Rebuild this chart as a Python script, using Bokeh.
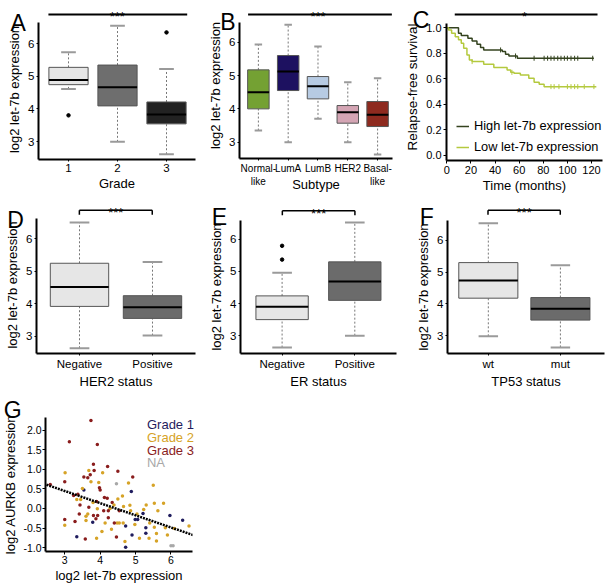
import numpy as np
from bokeh.plotting import figure
from bokeh.models import (ColumnDataSource, Label, Legend, LegendItem, Slope, FixedTicker,
                          GridBox, PrintfTickFormatter)
from bokeh.transform import factor_cmap
from bokeh.embed import file_html
from bokeh.resources import INLINE

FONT = "Liberation Sans"

# ---------------- data ----------------
# A: let-7b by grade
grade_cats = ["1", "2", "3"]
grade_q1 = [4.74, 4.09, 3.54]
grade_med = [4.88, 4.66, 3.83]
grade_q3 = [5.27, 5.34, 4.21]
grade_lo = [4.61, 2.99, 2.61]
grade_hi = [5.73, 6.54, 5.22]
grade_colors = ["#e6e6e6", "#6e6e6e", "#222222"]
grade_out_cat = ["1", "3"]
grade_out_val = [3.80, 6.34]

# B: let-7b by subtype
subtype_cats = ["Normal-\nlike", "LumA", "LumB", "HER2", "Basal-\nlike"]
subtype_q1 = [4.00, 4.55, 4.30, 3.57, 3.47]
subtype_med = [4.50, 5.12, 4.68, 3.90, 3.82]
subtype_q3 = [5.17, 5.60, 4.97, 4.10, 4.22]
subtype_lo = [3.35, 3.00, 3.70, 3.00, 2.63]
subtype_hi = [5.93, 6.52, 5.87, 4.80, 4.92]
subtype_colors = ["#74a133", "#1d1160", "#b7cbe3", "#d4a5b4", "#8e2a1f"]

# C: Kaplan-Meier relapse-free survival
km_high_t = [0, 9.7, 12, 17.5, 21, 25, 28, 30.6, 46, 48.7, 51.5, 58.5, 122]
km_high_s = [1.0, 0.957, 0.94, 0.918, 0.897, 0.871, 0.845, 0.826, 0.813, 0.792, 0.779, 0.761, 0.761]
km_high_cens = [44.6, 57, 72.4, 80.7, 83.6, 86.4, 89, 92, 94.7, 97.5, 100, 103, 106, 108.6, 121]
km_low_t = [0, 1.4, 4, 7, 9.7, 12, 14, 16.7, 18.7, 21, 30.6, 39, 50, 53, 55.7, 61, 68, 72.4, 76.6, 80.7, 124]
km_low_s = [1.0, 0.983, 0.957, 0.93, 0.905, 0.878, 0.84, 0.787, 0.748, 0.735, 0.714, 0.688, 0.669,
            0.651, 0.643, 0.63, 0.604, 0.573, 0.557, 0.539, 0.539]
km_low_cens = [21, 54, 86.4, 89, 93, 100, 103, 106, 108.6, 114, 122]
km_labels = ["High let-7b expression", "Low let-7b expression"]
km_colors = ["#34431f", "#b4c93e"]

# D: HER2 status
her2_cats = ["Negative", "Positive"]
her2_q1 = [3.92, 3.55]
her2_med = [4.52, 3.89]
her2_q3 = [5.25, 4.25]
her2_lo = [2.63, 3.02]
her2_hi = [6.51, 5.29]

# E: ER status
er_cats = ["Negative", "Positive"]
er_q1 = [3.50, 4.10]
er_med = [3.90, 4.69]
er_q3 = [4.24, 5.30]
er_lo = [2.63, 3.00]
er_hi = [4.96, 6.53]
er_out_cat = ["Negative", "Negative"]
er_out_val = [5.37, 5.80]

# F: TP53 status
tp53_cats = ["wt", "mut"]
tp53_q1 = [4.18, 3.49]
tp53_med = [4.74, 3.85]
tp53_q3 = [5.30, 4.20]
tp53_lo = [2.98, 2.63]
tp53_hi = [6.54, 5.22]

two_colors = ["#e6e6e6", "#6b6b6b"]

# G: AURKB vs let-7b scatter
g_x = [3.74, 3.13, 3.92, 3.01, 3.00, 3.81, 3.68, 3.83, 4.21, 3.54, 3.65, 3.72, 3.74, 3.96, 4.07,
       4.50, 3.54, 3.98, 4.00, 4.46, 4.80, 4.92, 4.88, 4.63, 4.12, 4.20, 4.34, 4.39, 4.28, 3.25,
       3.34, 3.45, 3.43, 3.68, 3.80, 3.90, 3.92, 3.65, 3.81, 3.93, 4.10, 4.23, 4.54, 4.66, 4.84,
       4.86, 5.04, 5.30, 5.53, 5.79, 5.50, 5.23, 5.63, 5.97, 6.33, 6.51, 6.10, 5.84, 5.90, 6.00,
       6.06, 5.21, 5.29, 5.29, 4.90, 4.72, 4.65, 4.54, 4.48, 4.46, 4.70, 4.72, 5.06, 5.11, 5.38,
       5.59, 5.59, 5.53, 5.40, 3.00, 3.00, 3.29, 3.34, 3.58, 3.60, 3.60, 3.79, 3.88, 3.90, 4.14,
       4.23, 4.32, 4.40, 4.05, 3.37, 4.98, 3.50, 4.50, 3.41, 4.99, 2.59]
g_y = [2.24, 1.70, 1.63, 0.91, 0.68, 1.13, 0.97, 0.97, 1.07, 0.80, 0.78, 0.86, 0.68, 0.66, 0.91,
       0.95, 0.47, 0.53, 0.47, 0.63, 0.65, 0.80, 0.43, 0.32, 0.28, 0.26, 0.15, 0.09, 0.00, 0.33,
       0.23, 0.23, 0.09, 0.03, 0.15, 0.18, -0.01, -0.14, -0.18, -0.18, -0.06, -0.06, -0.06, 0.05, 0.08,
       -0.06, -0.14, 0.09, 0.13, 0.13, 0.59, -0.03, -0.06, -0.18, -0.30, -0.45, -0.51, -0.49, -0.68, -0.95,
       -0.95, -0.13, -0.49, -0.63, -0.68, -0.45, -0.37, -0.37, -0.37, -0.73, -0.84, -0.99, -0.28, -0.76, -0.76,
       -0.64, -0.83, -0.48, -0.37, -0.28, -0.43, -0.33, -0.72, -0.78, -0.20, -0.31, -0.35, -0.26, -0.76, -0.37,
       -0.24, -0.53, -0.37, -0.59, 0.36, -0.41, 0.51, 0.24, -0.14, -0.28, 0.61]
g_grade = ["3", "3", "3", "2", "3", "3", "2", "3", "3", "3", "3", "3", "2", "2", "2",
           "3", "1", "3", "3", "NA", "2", "3", "1", "2", "3", "3", "3", "2", "2", "3",
           "2", "2", "3", "3", "2", "3", "2", "2", "3", "3", "3", "3", "3", "2", "2",
           "2", "2", "2", "2", "2", "2", "2", "2", "1", "1", "2", "2", "2", "2", "NA",
           "NA", "1", "1", "1", "1", "1", "2", "2", "2", "3", "2", "1", "1", "2", "2",
           "2", "2", "2", "2", "3", "2", "3", "1", "3", "2", "2", "1", "3", "2", "2",
           "3", "2", "3", "2", "3", "2", "2", "2", "3", "1", "3"]
g_factors = ["1", "2", "3", "NA"]
g_legend = ["Grade 1", "Grade 2", "Grade 3", "NA"]
g_palette = ["#1f1c5e", "#d6a327", "#8a1d1d", "#a8a8a8"]
g_fit_slope = -0.31
g_fit_intercept = 1.375

panel_letters = ["A", "B", "C", "D", "E", "F", "G"]

# ---------------- geometry (reference pixel space -> page layout) ----------------
W, H = 605, 585
SX, SY = W / 606, H / 586


def lx(r):
    return r * SX


def ly(r):
    return r * SY


COLS = [0, 197, 398, W]
ROWS = [0, 196, 391, H]


def cal(p_lo, p_hi, va, pa, vb, pb):
    k = (vb - va) / (pb - pa)
    return (va + (p_lo - pa) * k, va + (p_hi - pa) * k)


def panel(col, rw, frame_ref, xcal, ycal, width=None, ytop_ref=None):
    fx0, fy0 = COLS[col], ROWS[rw]
    w = width or (COLS[col + 1] - fx0)
    h = ROWS[rw + 1] - fy0
    l, t, r, b = frame_ref
    left = int(round(lx(l) - fx0))
    right = max(0, int(round(fx0 + w - lx(r))))
    top = int(round(ly(t) - fy0))
    bottom = int(round(fy0 + h - ly(b)))
    xr = cal(l, r, *xcal)
    yr = cal(b, t, *ycal)
    p = figure(width=w, height=h, x_range=xr, y_range=yr,
               output_backend="svg", toolbar_location=None, frame_align=False,
               min_border_left=left, min_border_right=right,
               min_border_top=top, min_border_bottom=bottom)
    p.xgrid.visible = False
    p.ygrid.visible = False
    p.outline_line_color = None
    for ax in p.axis:
        ax.axis_line_width = 2
        ax.axis_line_color = "black"
        ax.major_tick_line_color = "black"
        ax.major_tick_in = 0
        ax.major_tick_out = 2
        ax.minor_tick_line_color = None
        ax.major_label_text_font = FONT
        ax.major_label_text_color = "black"
        ax.major_label_text_font_size = "11.5px"
        ax.major_label_standoff = 2
        ax.axis_label_text_font = FONT
        ax.axis_label_text_font_style = "normal"
        ax.axis_label_text_color = "black"
        ax.axis_label_standoff = 1
    p.xaxis.axis_label_text_font_size = "13px"
    p.yaxis.axis_label_text_font_size = "13px"
    p.yaxis.axis_label_standoff = 3
    if ytop_ref is not None:
        p.yaxis.bounds = (yr[0], cal(ytop_ref, ytop_ref, *ycal)[0])
    return p


def boxplot(p, cats, q1, med, q3, lo, hi, colors, width, capw, out_cat=None, out_val=None):
    xs = np.arange(1, len(cats) + 1, dtype=float)
    src = ColumnDataSource(dict(x=xs, q1=q1, med=med, q3=q3, lo=lo, hi=hi, color=colors,
                                x0=xs - width / 2, x1=xs + width / 2,
                                c0=xs - capw / 2, c1=xs + capw / 2))
    p.segment("x", "q3", "x", "hi", source=src, line_color="#777777", line_dash="2 2", line_width=1)
    p.segment("x", "lo", "x", "q1", source=src, line_color="#777777", line_dash="2 2", line_width=1)
    p.segment("c0", "hi", "c1", "hi", source=src, line_color="#9a9a9a", line_width=2)
    p.segment("c0", "lo", "c1", "lo", source=src, line_color="#9a9a9a", line_width=2)
    p.vbar(x="x", width=width, bottom="q1", top="q3", fill_color="color",
           line_color="#555555", line_width=1, source=src)
    p.segment("x0", "med", "x1", "med", source=src, line_color="black", line_width=2)
    if out_cat:
        ox = [cats.index(c) + 1 for c in out_cat]
        p.scatter(ox, out_val, size=3.5, color="black")
    p.xaxis.ticker = FixedTicker(ticks=list(xs))
    p.xaxis.major_label_overrides = {int(x): c for x, c in zip(xs, cats)}
    p.yaxis.ticker = FixedTicker(ticks=[3, 4, 5, 6])


YLAB = "log2 let-7b expression"

# ---------------- A ----------------
pa = panel(0, 0, (38, 19, 195, 159), (1, 68, 3, 166), (6, 43, 3, 141), ytop_ref=22)
boxplot(pa, grade_cats, grade_q1, grade_med, grade_q3, grade_lo, grade_hi, grade_colors,
        0.8, 0.3, grade_out_cat, grade_out_val)
pa.xaxis.axis_label = "Grade"
pa.yaxis.axis_label = YLAB

# ---------------- B ----------------
pb = panel(1, 0, (239, 12, 393, 158), (1, 258, 5, 378), (6, 41.7, 3, 141.7), ytop_ref=22)
boxplot(pb, subtype_cats, subtype_q1, subtype_med, subtype_q3, subtype_lo, subtype_hi,
        subtype_colors, 0.72, 0.25)
pb.xaxis.major_label_text_font_size = "10px"
pb.xaxis.axis_label = "Subtype"
pb.xaxis.axis_label_standoff = -13
pb.yaxis.axis_label = YLAB

# ---------------- C ----------------
pc = panel(2, 0, (447, 13.3, 603, 160), (0, 447.3, 120, 592), (1.0, 27.5, 0.0, 155), ytop_ref=23)
renderers = []
for t, s, cens, col in [(km_high_t, km_high_s, km_high_cens, km_colors[0]),
                        (km_low_t, km_low_s, km_low_cens, km_colors[1])]:
    r = pc.step(t, s, mode="after", line_color=col, line_width=1.5)
    renderers.append(r)
    idx = np.searchsorted(np.array(t), np.array(cens), side="right") - 1
    pc.scatter(cens, np.array(s)[idx], marker="dash", angle=np.pi / 2, size=5,
               line_color=col, line_width=1)
pc.yaxis.ticker = FixedTicker(ticks=[0, 0.2, 0.4, 0.6, 0.8, 1.0])
pc.yaxis.formatter = PrintfTickFormatter(format="%.1f")
pc.xaxis.ticker = FixedTicker(ticks=[0, 20, 40, 60, 80, 100, 120])
for ax in pc.axis:
    ax.major_label_text_font_size = "11px"
    ax.major_tick_out = 3
pc.xaxis.axis_label = "Time (months)"
pc.yaxis.axis_label = "Relapse-free survival"
pc.yaxis.axis_label_text_font_size = "13.5px"
leg = Legend(items=[LegendItem(label=km_labels[i], renderers=[renderers[i]]) for i in range(2)],
             location=(10, 6), orientation="vertical", glyph_width=13, glyph_height=14,
             label_height=14, label_standoff=5, spacing=6, padding=0, margin=0,
             border_line_color=None, background_fill_alpha=0,
             label_text_font=FONT, label_text_font_size="12.8px", label_text_color="black")
pc.add_layout(leg)

# ---------------- D ----------------
pd_ = panel(0, 1, (36, 216.3, 195, 356.7), (1, 79, 2, 152), (6, 239.3, 3, 339), ytop_ref=218.3)
boxplot(pd_, her2_cats, her2_q1, her2_med, her2_q3, her2_lo, her2_hi, two_colors, 0.8, 0.27)
pd_.xaxis.axis_label = "HER2 status"
pd_.yaxis.axis_label = YLAB

# ---------------- E ----------------
pe = panel(1, 1, (240.7, 220.5, 396.7, 357.7), (1, 282.3, 2, 355), (6, 240, 3, 339.3), ytop_ref=220.5)
boxplot(pe, er_cats, er_q1, er_med, er_q3, er_lo, er_hi, two_colors, 0.72, 0.27,
        er_out_cat, er_out_val)
pe.xaxis.axis_label = "ER status"
pe.yaxis.axis_label = YLAB

# ---------------- F ----------------
pf = panel(2, 1, (447.3, 220.5, 605, 357.7), (1, 488.3, 2, 560.7), (6, 241, 3, 339.3), ytop_ref=220.5)
boxplot(pf, tp53_cats, tp53_q1, tp53_med, tp53_q3, tp53_lo, tp53_hi, two_colors, 0.82, 0.27)
pf.xaxis.axis_label = "TP53 status"
pf.yaxis.axis_label = YLAB

# ---------------- G ----------------
pg = panel(0, 2, (37, 418, 192, 554), (3, 57.3, 6, 169.3), (2.0, 430.7, 0.0, 510.3), width=232)
gsrc = ColumnDataSource(dict(x=g_x, y=g_y, grade=g_grade))
pg.scatter("x", "y", source=gsrc, size=3.5, line_color=None,
           fill_color=factor_cmap("grade", g_palette, g_factors))
pg.add_layout(Slope(gradient=g_fit_slope, y_intercept=g_fit_intercept, line_color="black",
                    line_width=2.5, line_dash="2 1"))
pg.xaxis.ticker = FixedTicker(ticks=[3, 4, 5, 6])
pg.yaxis.ticker = FixedTicker(ticks=[-1.0, -0.5, 0.0, 0.5, 1.0, 1.5, 2.0])
pg.yaxis.formatter = PrintfTickFormatter(format="%.1f")
for ax in pg.axis:
    ax.major_label_text_font_size = "10.5px"
    ax.major_tick_out = 3
    ax.major_label_standoff = 1
pg.xaxis.axis_label = "log2 let-7b expression"
pg.yaxis.axis_label = "log2 AURKB expression"
pg.yaxis.axis_label_standoff = 2

# ---------------- transparent overlay: panel letters, significance bars, G legend ----------------
ov = figure(width=W, height=H, x_range=(0, W), y_range=(H, 0), output_backend="svg",
            toolbar_location=None, x_axis_location=None, y_axis_location=None,
            frame_align=False, min_border=0, min_border_left=0, min_border_right=0,
            min_border_top=0, min_border_bottom=0)
ov.grid.visible = False
ov.outline_line_color = None
ov.background_fill_alpha = 0
ov.border_fill_alpha = 0

letter_ref = [(10, 22.5), (220, 21.7), (413, 20), (6.7, 220), (211.7, 216.7), (420, 216.7), (3.3, 410.5)]
for txt, (rx, ry) in zip(panel_letters, letter_ref):
    ov.add_layout(Label(x=lx(rx), y=ly(ry), text=txt, text_font=FONT, text_font_size="23px",
                        text_baseline="alphabetic", text_color="black"))

# significance bars: (x0, x1, y, star-x, stars, drop, width) in reference px
sig_ref = [(48, 187, 14, 117, "***", 0, 2), (248, 392, 14, 318, "***", 0, 2),
           (455, 598, 14, 525, "*", 0, 2), (79, 152, 210, 115.5, "***", 4.5, 1.5),
           (282.3, 355, 210.7, 318.7, "***", 4.5, 1.5), (488.3, 560.7, 210, 524.5, "***", 4.5, 1.5)]
for x0, x1, y, sx, stars, drop, lw in sig_ref:
    ov.segment(x0=[lx(x0)], y0=[ly(y)], x1=[lx(x1)], y1=[ly(y)], line_color="black", line_width=lw)
    if drop:
        ov.segment(x0=[lx(x0), lx(x1)], y0=[ly(y)] * 2, x1=[lx(x0), lx(x1)],
                   y1=[ly(y + drop)] * 2, line_color="black", line_width=lw)
    ov.add_layout(Label(x=lx(sx), y=ly(y) + 2.5, text=stars, text_align="center",
                        text_baseline="alphabetic", text_font=FONT, text_font_size="13px",
                        text_color="black"))

for lab, col, ry in zip(g_legend, g_palette, [424.3, 437.3, 450.3, 463]):
    ov.add_layout(Label(x=lx(146.7), y=ly(ry), text=lab, text_font=FONT, text_font_size="13px",
                        text_color=col, text_baseline="middle"))

layout = GridBox(children=[(pa, 0, 0), (pb, 0, 1), (pc, 0, 2),
                           (pd_, 1, 0), (pe, 1, 1), (pf, 1, 2),
                           (pg, 2, 0, 1, 2),
                           (ov, 0, 0, 3, 3)])
open("out.html", "w").write(file_html(layout, INLINE, title="let-7b"))
